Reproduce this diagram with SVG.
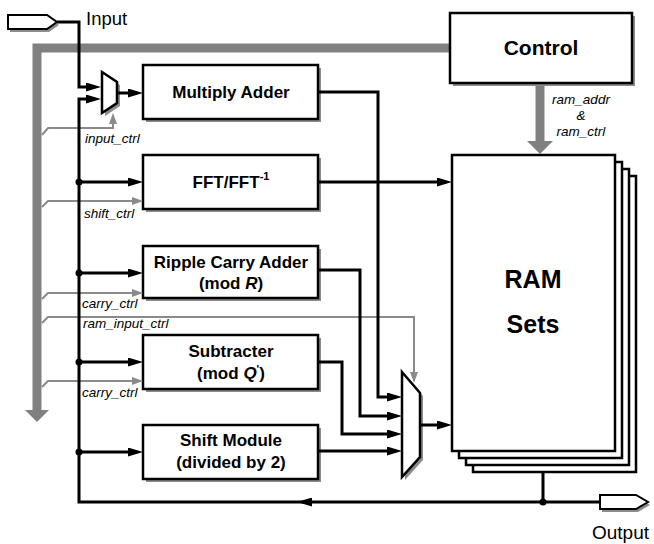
<svg xmlns="http://www.w3.org/2000/svg" width="654" height="544" viewBox="0 0 654 544">
<style>
.bg{fill:#ffffff}
.box{fill:#ffffff;stroke:#000;stroke-width:2.5}
.shadow{fill:#8c8c8c}
.blk{fill:none;stroke:#000;stroke-width:3;stroke-linejoin:miter}
.gry{fill:none;stroke:#8a8a8a;stroke-width:2}
.bus{fill:none;stroke:#808080;stroke-width:9;stroke-linejoin:miter}
.busHead{fill:#808080}
.t{font-family:"Liberation Sans",Arial,sans-serif;fill:#000}
.b{font-weight:bold;font-size:17px;text-anchor:middle}
.lab{font-style:italic;font-size:13.5px}
.dot{fill:#000}
</style>
<defs>
<marker id="ab" markerUnits="userSpaceOnUse" markerWidth="15" markerHeight="9" refX="9" refY="4.5" orient="auto">
<path d="M0,0 L15,4.5 L0,9 z" fill="#000"/>
</marker>
<marker id="ag" markerUnits="userSpaceOnUse" markerWidth="11" markerHeight="8" refX="7" refY="4" orient="auto">
<path d="M0,0 L11,4 L0,8 z" fill="#8a8a8a"/>
</marker>
</defs>
<rect class="bg" x="0" y="0" width="654" height="544"/>

<!-- gray control bus -->
<g id="bus">
<path class="bus" d="M452,48 H37 V411"/>
<polygon class="busHead" points="25,410 49,410 37,422"/>
<path class="bus" d="M540,83 V143"/>
<polygon class="busHead" points="527,141 553,141 540,154"/>
</g>

<g id="input">
<polygon class="shadow" points="10,18 49,18 59,25 49,32 10,32"/>
<polygon fill="#fff" stroke="#000" stroke-width="2" points="8,15 47,15 57,22 47,29 8,29"/>
<text class="t" x="86" y="25" font-size="18.5">Input</text>
</g>

<g id="output">
<polygon class="shadow" points="602,498 638,498 650,505 638,512 602,512"/>
<polygon fill="#fff" stroke="#000" stroke-width="2" points="600,495 636,495 648,502 636,509 600,509"/>
<text class="t" x="592" y="539" font-size="19">Output</text>
</g>

<g id="control">
<rect class="shadow" x="453" y="16" width="182" height="70"/>
<rect class="box" x="450" y="13" width="182" height="70"/>
<text class="t" x="541" y="55" font-size="21" font-weight="bold" text-anchor="middle">Control</text>
</g>

<g id="ram">
<rect class="box" x="473" y="176" width="163" height="296"/>
<rect class="box" x="466" y="169" width="163" height="296"/>
<rect class="box" x="459" y="162" width="163" height="296"/>
<rect class="box" x="452" y="155" width="163" height="296"/>
<text class="t" x="533" y="288" font-size="25" font-weight="bold" text-anchor="middle">RAM</text>
<text class="t" x="533" y="333" font-size="25" font-weight="bold" text-anchor="middle">Sets</text>
</g>

<g id="mux1">
<polygon class="shadow" points="105,75 120,85 120,106 105,116"/>
<polygon fill="#fff" stroke="#000" stroke-width="2.5" points="102,72 117,82 117,103 102,113"/>
</g>

<g id="mux2">
<polygon class="shadow" points="405,375 423,396 423,460 405,480"/>
<polygon fill="#fff" stroke="#000" stroke-width="2.5" points="402,372 420,393 420,457 402,477"/>
</g>

<g id="multiply">
<rect class="shadow" x="146" y="68" width="175" height="54"/>
<rect class="box" x="143" y="65" width="175" height="54"/>
<text class="t b" x="231" y="98">Multiply Adder</text>
</g>

<g id="fft">
<rect class="shadow" x="146" y="158" width="175" height="54"/>
<rect class="box" x="143" y="155" width="175" height="54"/>
<text class="t b" x="231" y="188">FFT/FFT<tspan font-size="11" dy="-8">-1</tspan></text>
</g>

<g id="ripple">
<rect class="shadow" x="146" y="249" width="175" height="52"/>
<rect class="box" x="143" y="246" width="175" height="52"/>
<text class="t b" x="231" y="268">Ripple Carry Adder</text>
<text class="t b" x="231" y="289">(mod <tspan font-style="italic">R</tspan>)</text>
</g>

<g id="subtracter">
<rect class="shadow" x="146" y="338" width="175" height="54"/>
<rect class="box" x="143" y="335" width="175" height="54"/>
<text class="t b" x="231" y="357">Subtracter</text>
<text class="t b" x="231" y="379">(mod <tspan font-style="italic">Q</tspan><tspan font-size="11" dy="-6">'</tspan><tspan dy="6">)</tspan></text>
</g>

<g id="shift">
<rect class="shadow" x="146" y="428" width="175" height="54"/>
<rect class="box" x="143" y="425" width="175" height="54"/>
<text class="t b" x="231" y="446">Shift Module</text>
<text class="t b" x="231" y="468">(divided by 2)</text>
</g>

<g id="connectors">
<!-- gray control lines -->
<path class="gry" d="M42,135 L48,128 H113 V117" marker-end="url(#ag)"/>
<path class="gry" d="M42,207 L48,201 H139" marker-end="url(#ag)"/>
<path class="gry" d="M42,299 L48,293 H139" marker-end="url(#ag)"/>
<path class="gry" d="M42,323 L48,317 H414 V379" marker-end="url(#ag)"/>
<path class="gry" d="M42,387 L48,381 H139" marker-end="url(#ag)"/>

<!-- black data lines -->
<path class="blk" d="M57,22 H79 V87 H95" marker-end="url(#ab)"/>
<path class="blk" d="M543,502 H79 V99 H95" marker-end="url(#ab)"/>
<path class="blk" d="M312,502 H303" marker-end="url(#ab)"/>
<path class="blk" d="M543,472 V502 H600"/>
<path class="blk" d="M117,93 H137" marker-end="url(#ab)"/>
<path class="blk" d="M79,182 H137" marker-end="url(#ab)"/>
<path class="blk" d="M79,273 H137" marker-end="url(#ab)"/>
<path class="blk" d="M79,362 H137" marker-end="url(#ab)"/>
<path class="blk" d="M79,452 H137" marker-end="url(#ab)"/>
<path class="blk" d="M318,92 H378 V397 H396" marker-end="url(#ab)"/>
<path class="blk" d="M318,182 H446" marker-end="url(#ab)"/>
<path class="blk" d="M318,270 H360 V416 H396" marker-end="url(#ab)"/>
<path class="blk" d="M318,362 H342 V434 H396" marker-end="url(#ab)"/>
<path class="blk" d="M318,451 H396" marker-end="url(#ab)"/>
<path class="blk" d="M420,425 H446" marker-end="url(#ab)"/>
<circle class="dot" cx="79" cy="182" r="3.5"/>
<circle class="dot" cx="79" cy="273" r="3.5"/>
<circle class="dot" cx="79" cy="362" r="3.5"/>
<circle class="dot" cx="79" cy="452" r="3.5"/>
<circle class="dot" cx="543" cy="502" r="3.5"/>

<!-- labels -->
<text class="t lab" x="85" y="143">input_ctrl</text>
<text class="t lab" x="84" y="218">shift_ctrl</text>
<text class="t lab" x="82" y="308">carry_ctrl</text>
<text class="t lab" x="83" y="328">ram_input_ctrl</text>
<text class="t lab" x="82" y="397">carry_ctrl</text>
<text class="t lab" x="581" y="104" text-anchor="middle">ram_addr</text>
<text class="t lab" x="581" y="120" text-anchor="middle">&amp;</text>
<text class="t lab" x="581" y="136" text-anchor="middle">ram_ctrl</text>
</g>
</svg>
